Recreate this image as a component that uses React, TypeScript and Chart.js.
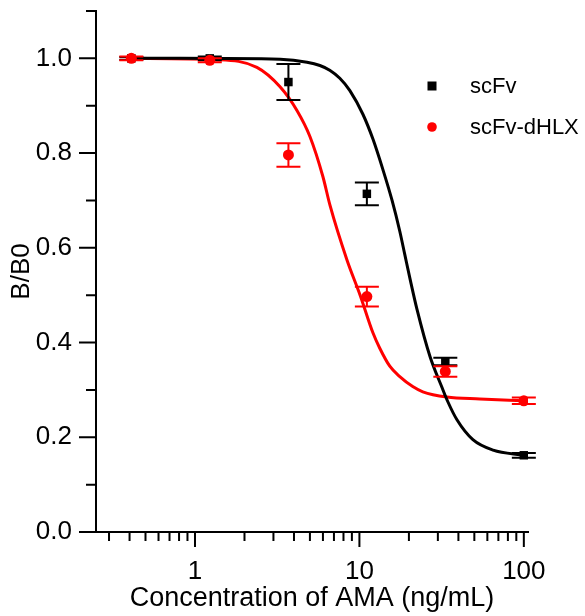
import React, { useEffect, useRef } from "react";
import { Chart, registerables } from "chart.js";

Chart.register(...registerables);

// ---- data ----
const concentrations = [0.41, 1.23, 3.7, 11.1, 33.3, 100];
const scFvValues = [1.0, 1.0, 0.95, 0.714, 0.36, 0.162];
const scFvErrors = [0.003, 0.004, 0.038, 0.024, 0.008, 0.005];
const dhlxValues = [1.0, 0.996, 0.796, 0.497, 0.339, 0.277];
const dhlxErrors = [0.004, 0.004, 0.025, 0.021, 0.011, 0.007];

const scFvCurveX = [0.41, 0.81, 3.3, 4.8, 5.75, 6.6, 7.6, 8.75, 10.5, 12.1, 13.9, 15.8, 17.6, 18.9, 20.3, 22.4, 26.9, 31.8, 34.5, 39.2, 49, 65, 100];
const scFvCurveY = [1.0, 1.0, 0.998, 0.992, 0.985, 0.975, 0.958, 0.932, 0.882, 0.829, 0.765, 0.7, 0.635, 0.585, 0.535, 0.47, 0.37, 0.305, 0.275, 0.237, 0.195, 0.173, 0.162];
const dhlxCurveX = [0.41, 1.42, 2.38, 3.29, 4.17, 5.0, 6.0, 6.62, 8.39, 10.1, 12.1, 13.3, 15.3, 17.6, 21.1, 24.3, 34, 54, 100];
const dhlxCurveY = [1.0, 0.997, 0.981, 0.94, 0.89, 0.835, 0.75, 0.69, 0.575, 0.5, 0.42, 0.388, 0.35, 0.328, 0.307, 0.296, 0.285, 0.281, 0.277];

const seriesLabels = ["scFv", "scFv-dHLX"];
const seriesColors = ["#000000", "#ff0000"];

const xMajorTicks = [1, 10, 100];
const xMinorTicks = [0.3, 0.4, 0.5, 0.6, 0.7, 0.8, 0.9, 2, 3, 4, 5, 6, 7, 8, 9, 20, 30, 40, 50, 60, 70, 80, 90];
const yMajorTicks = [0, 0.2, 0.4, 0.6, 0.8, 1.0];
const yMinorTicks = [0.1, 0.3, 0.5, 0.7, 0.9, 1.1];

const xTitle = "Concentration of AMA (ng/mL)";
const yTitle = "B/B0";

const FONT = "'Liberation Sans', Arial, sans-serif";

const toPoints = (xs: number[], ys: number[]) => xs.map((x, i) => ({ x, y: ys[i] }));

const errorBarPlugin = {
  id: "errorBars",
  beforeDatasetDraw(chart: any, args: any) {
    const ds = chart.data.datasets[args.index];
    if (!ds.errors) return;
    const { ctx, scales } = chart;
    const xs = scales.x;
    const ys = scales.y;
    ctx.save();
    ctx.strokeStyle = ds.borderColor;
    ctx.lineWidth = 2;
    ds.data.forEach((p: any, i: number) => {
      const e = ds.errors[i];
      const px = xs.getPixelForValue(p.x);
      const top = ys.getPixelForValue(p.y + e);
      const bot = ys.getPixelForValue(p.y - e);
      const half = 12;
      ctx.beginPath();
      ctx.moveTo(px, top);
      ctx.lineTo(px, bot);
      ctx.moveTo(px - half, top);
      ctx.lineTo(px + half, top);
      ctx.moveTo(px - half, bot);
      ctx.lineTo(px + half, bot);
      ctx.stroke();
    });
    ctx.restore();
  },
};

const axisTicksPlugin = {
  id: "axisTicks",
  afterDraw(chart: any) {
    const { ctx, scales, chartArea } = chart;
    const xs = scales.x;
    const ys = scales.y;
    ctx.save();
    ctx.strokeStyle = "#000";
    ctx.lineWidth = 2;
    ctx.beginPath();
    xMajorTicks.forEach((v) => {
      const px = xs.getPixelForValue(v);
      ctx.moveTo(px, chartArea.bottom);
      ctx.lineTo(px, chartArea.bottom + 15);
    });
    xMinorTicks.forEach((v) => {
      const px = xs.getPixelForValue(v);
      ctx.moveTo(px, chartArea.bottom);
      ctx.lineTo(px, chartArea.bottom + 9);
    });
    yMajorTicks.forEach((v) => {
      const py = ys.getPixelForValue(v);
      ctx.moveTo(chartArea.left, py);
      ctx.lineTo(chartArea.left - 17, py);
    });
    yMinorTicks.forEach((v) => {
      const py = ys.getPixelForValue(v);
      ctx.moveTo(chartArea.left, py);
      ctx.lineTo(chartArea.left - 10, py);
    });
    ctx.stroke();
    ctx.restore();
  },
};

const legendPlugin = {
  id: "customLegend",
  afterDraw(chart: any) {
    const { ctx, chartArea } = chart;
    const x0 = chartArea.right - 96;
    const y0 = chartArea.top + 75;
    const gap = 41;
    ctx.save();
    ctx.font = `22px ${FONT}`;
    ctx.textBaseline = "middle";
    ctx.textAlign = "left";
    seriesLabels.forEach((label, i) => {
      const y = y0 + i * gap;
      ctx.fillStyle = seriesColors[i];
      if (i === 0) {
        ctx.fillRect(x0 - 4.5, y - 4.5, 9, 9);
      } else {
        ctx.beginPath();
        ctx.arc(x0, y, 4.8, 0, Math.PI * 2);
        ctx.fill();
      }
      ctx.fillStyle = "#000";
      ctx.fillText(label, x0 + 38, y + 1);
    });
    ctx.restore();
  },
};

export default function App() {
  const canvasRef = useRef<HTMLCanvasElement | null>(null);

  useEffect(() => {
    if (!canvasRef.current) return;
    const chart = new Chart(canvasRef.current, {
      type: "line",
      data: {
        datasets: [
          {
            label: seriesLabels[1],
            data: toPoints(concentrations, dhlxValues),
            errors: dhlxErrors,
            showLine: false,
            borderColor: seriesColors[1],
            backgroundColor: seriesColors[1],
            pointStyle: "circle",
            pointRadius: 5.5,
            pointBorderWidth: 0,
          } as any,
          {
            label: seriesLabels[0],
            data: toPoints(concentrations, scFvValues),
            errors: scFvErrors,
            showLine: false,
            borderColor: seriesColors[0],
            backgroundColor: seriesColors[0],
            pointStyle: "rect",
            pointRadius: 6,
            pointBorderWidth: 0,
          } as any,
          {
            label: seriesLabels[0] + " fit",
            data: toPoints(scFvCurveX, scFvCurveY),
            borderColor: seriesColors[0],
            borderWidth: 3,
            pointRadius: 0,
            cubicInterpolationMode: "monotone",
            fill: false,
          },
          {
            label: seriesLabels[1] + " fit",
            data: toPoints(dhlxCurveX, dhlxCurveY),
            borderColor: seriesColors[1],
            borderWidth: 3,
            pointRadius: 0,
            cubicInterpolationMode: "monotone",
            fill: false,
          },
        ],
      },
      options: {
        animation: false,
        responsive: true,
        maintainAspectRatio: false,
        events: [],
        layout: { padding: { top: 11, right: 57, left: 0, bottom: 0 } },
        plugins: {
          legend: { display: false },
          tooltip: { enabled: false },
        },
        scales: {
          x: {
            type: "logarithmic",
            position: "bottom",
            min: 0.25,
            max: 106,
            grid: { display: false, drawTicks: false },
            border: { display: true, color: "#000", width: 2 },
            afterBuildTicks: (s: any) => {
              s.ticks = xMajorTicks.map((v) => ({ value: v }));
            },
            ticks: {
              color: "#000",
              font: { family: FONT, size: 26 },
              padding: 24,
              autoSkip: false,
              maxRotation: 0,
              callback: (v: any) => String(v),
            },
            title: {
              display: true,
              text: xTitle,
              color: "#000",
              font: { family: FONT, size: 27 },
              padding: { top: 0, bottom: 1 },
            },
            afterFit: (s: any) => {
              s.height = 84;
              s.paddingLeft = 0;
              s.paddingRight = 0;
              s.paddingTop = 0;
              s.paddingBottom = 0;
            },
          } as any,
          y: {
            type: "linear",
            min: 0,
            max: 1.1,
            grid: { display: false, drawTicks: false },
            border: { display: true, color: "#000", width: 2 },
            afterBuildTicks: (s: any) => {
              s.ticks = yMajorTicks.map((v) => ({ value: v }));
            },
            ticks: {
              color: "#000",
              font: { family: FONT, size: 26 },
              padding: 24,
              autoSkip: false,
              callback: (v: any) => Number(v).toFixed(1),
            },
            title: {
              display: true,
              text: yTitle,
              color: "#000",
              font: { family: FONT, size: 26 },
              padding: { top: 6, bottom: 0 },
            },
            afterFit: (s: any) => {
              s.width = 96;
              s.paddingLeft = 0;
              s.paddingRight = 0;
              s.paddingTop = 0;
              s.paddingBottom = 0;
            },
          } as any,
        },
      },
      plugins: [errorBarPlugin, axisTicksPlugin, legendPlugin],
    });
    return () => chart.destroy();
  }, []);

  return (
    <div style={{ position: "fixed", left: 0, top: 0, width: 585, height: 616, background: "#fff" }}>
      <canvas ref={canvasRef} />
    </div>
  );
}
